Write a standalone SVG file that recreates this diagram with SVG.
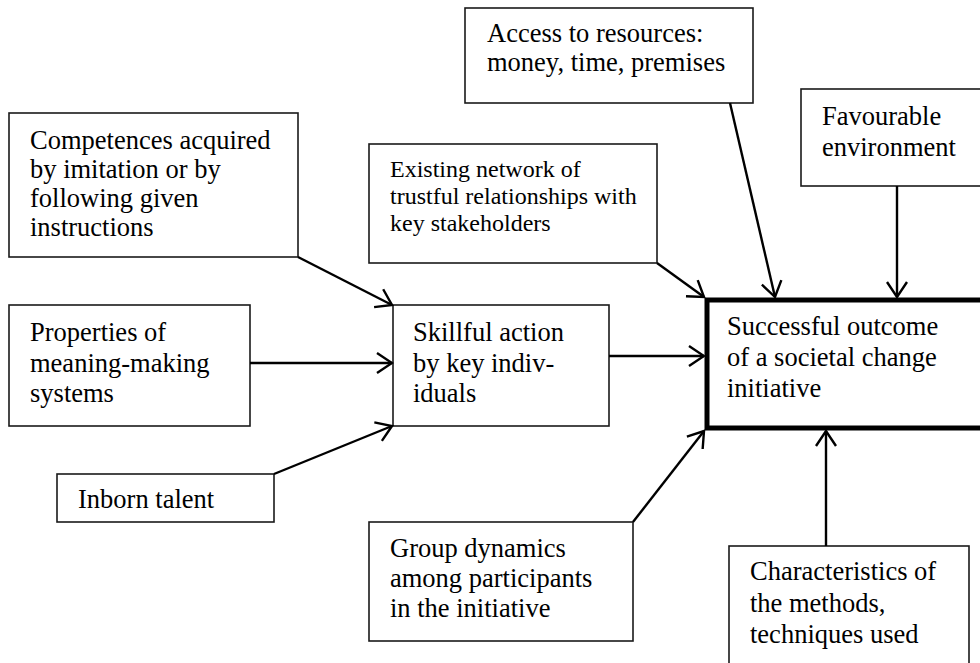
<svg xmlns="http://www.w3.org/2000/svg" width="980" height="663" viewBox="0 0 980 663">
  <style>
    .box { fill: #ffffff; stroke: #1a1a1a; stroke-width: 1.6; }
    .main { fill: #ffffff; stroke: #000000; stroke-width: 5; }
    .lbl { font-family: "Liberation Serif", "Times New Roman", serif; font-size: 26.5px; fill: #000000; }
    .small { font-size: 24px; }
    .conn { stroke: #000000; stroke-width: 2.4; fill: none; marker-end: url(#open); }
  </style>
  <defs>
    <marker id="open" markerUnits="userSpaceOnUse" viewBox="-17 -12 19 24" refX="0" refY="0" markerWidth="19" markerHeight="24" orient="auto">
      <path d="M-15,-10 L0,0 L-15,10" fill="none" stroke="#000000" stroke-width="2.4"/>
    </marker>
  </defs>
  <rect width="980" height="663" fill="#ffffff"/>

  <g id="competences">
    <rect class="box" x="9" y="113" width="289" height="144"/>
    <text class="lbl" x="30" y="149">Competences acquired</text>
    <text class="lbl" x="30" y="178">by imitation or by</text>
    <text class="lbl" x="30" y="207">following given</text>
    <text class="lbl" x="30" y="236">instructions</text>
  </g>

  <g id="properties">
    <rect class="box" x="9" y="305" width="241" height="121"/>
    <text class="lbl" x="30" y="341">Properties of</text>
    <text class="lbl" x="30" y="372">meaning-making</text>
    <text class="lbl" x="30" y="402">systems</text>
  </g>

  <g id="inborn">
    <rect class="box" x="57" y="474" width="217" height="48"/>
    <text class="lbl" x="78" y="508">Inborn talent</text>
  </g>

  <g id="skillful">
    <rect class="box" x="393" y="305" width="216" height="121"/>
    <text class="lbl" x="413" y="341">Skillful action</text>
    <text class="lbl" x="413" y="372">by key indiv-</text>
    <text class="lbl" x="413" y="402">iduals</text>
  </g>

  <g id="existing">
    <rect class="box" x="369" y="144" width="288" height="119"/>
    <text class="lbl small" x="390" y="177">Existing network of</text>
    <text class="lbl small" x="390" y="204">trustful relationships with</text>
    <text class="lbl small" x="390" y="231">key stakeholders</text>
  </g>

  <g id="access">
    <rect class="box" x="465" y="8" width="288" height="95"/>
    <text class="lbl" x="487" y="42">Access to resources:</text>
    <text class="lbl" x="487" y="71">money, time, premises</text>
  </g>

  <g id="favourable">
    <rect class="box" x="801" y="89" width="200" height="97"/>
    <text class="lbl" x="822" y="125">Favourable</text>
    <text class="lbl" x="822" y="156">environment</text>
  </g>

  <g id="group">
    <rect class="box" x="369" y="522" width="264" height="119"/>
    <text class="lbl" x="390" y="557">Group dynamics</text>
    <text class="lbl" x="390" y="587">among participants</text>
    <text class="lbl" x="390" y="617">in the initiative</text>
  </g>

  <g id="characteristics">
    <rect class="box" x="729" y="546" width="240" height="130"/>
    <text class="lbl" x="750" y="580">Characteristics of</text>
    <text class="lbl" x="750" y="612">the methods,</text>
    <text class="lbl" x="750" y="643">techniques used</text>
  </g>

  <g id="outcome">
    <rect class="main" x="707" y="300" width="290" height="128"/>
    <text class="lbl" x="727" y="335">Successful outcome</text>
    <text class="lbl" x="727" y="366">of a societal change</text>
    <text class="lbl" x="727" y="397">initiative</text>
  </g>

  <g id="connectors">
    <line class="conn" x1="298" y1="257" x2="392" y2="305"/>
    <line class="conn" x1="250" y1="363" x2="392" y2="363"/>
    <line class="conn" x1="274" y1="474" x2="392" y2="426"/>
    <line class="conn" x1="609" y1="356" x2="704" y2="356"/>
    <line class="conn" x1="657" y1="263" x2="704" y2="297"/>
    <line class="conn" x1="730" y1="103" x2="775" y2="297"/>
    <line class="conn" x1="897" y1="186" x2="897" y2="297"/>
    <line class="conn" x1="633" y1="522" x2="704" y2="431"/>
    <line class="conn" x1="826" y1="546" x2="826" y2="431"/>
  </g>
</svg>
